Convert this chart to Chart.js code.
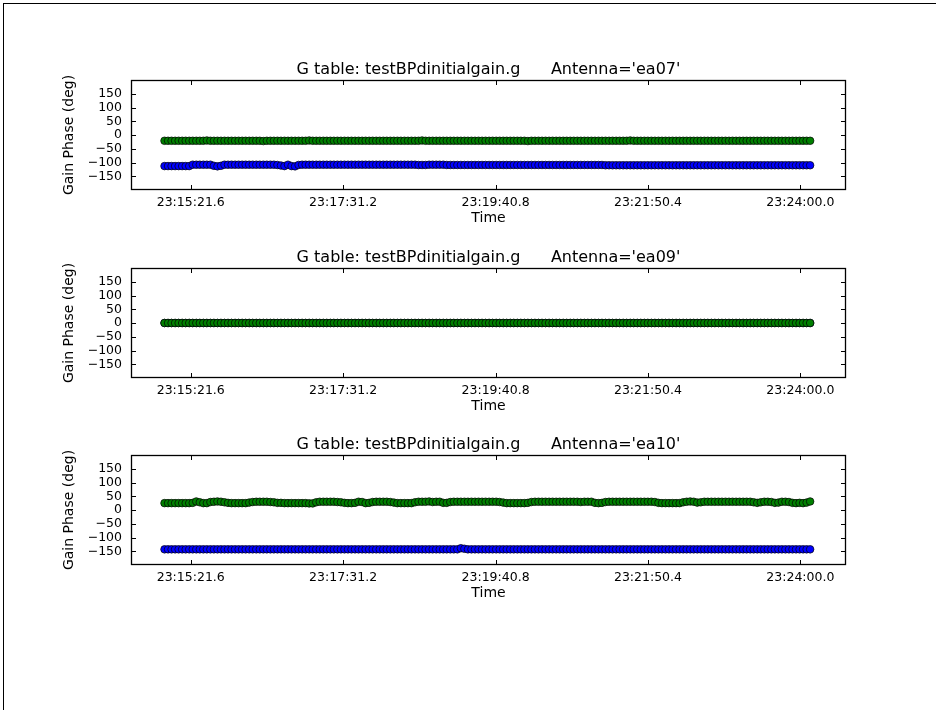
<!DOCTYPE html>
<html>
<head>
<meta charset="utf-8">
<script src="https://cdn.jsdelivr.net/npm/chart.js@4"></script>
<style>
  html, body { margin: 0; padding: 0; background: #fff; }
  body { width: 936px; height: 710px; position: relative; overflow: hidden; }
  #page-frame { position: absolute; left: 3px; top: 3px; width: 1000px; height: 800px;
                border-left: 1px solid #000; border-top: 1px solid #000; }
  .panel { position: absolute; left: 0; width: 936px; height: 190px; }
</style>
</head>
<body>
<div id="page-frame"></div>
<div class="panel" style="top:50px"><canvas id="c1" width="936" height="190"></canvas></div>
<div class="panel" style="top:238px"><canvas id="c2" width="936" height="190"></canvas></div>
<div class="panel" style="top:425px"><canvas id="c3" width="936" height="190"></canvas></div>
<script>
// Calibration table and antennas
const tableName = "testBPdinitialgain.g";
const antennas = ["ea07", "ea09", "ea10"];

// Solution times: seconds after midnight (first solution, solution interval, count)
const firstSolution = 83699.3;
const solutionInterval = 3.0;
const solutionCount = 184;

// Time axis ticks (seconds after midnight) and their labels
const timeTicks = [83721.6, 83851.2, 83980.8, 84110.4, 84240.0];
const timeTickLabels = ["23:15:21.6", "23:17:31.2", "23:19:40.8", "23:21:50.4", "23:24:00.0"];
const timeMin = 83670.8;
const timeMax = 84278.8;

// Phase axis
const phaseTicks = [-150, -100, -50, 0, 50, 100, 150];
const phaseMin = -200;
const phaseMax = 200;

// Gain phase (deg), polarization 1 (green) and polarization 2 (blue)
const ea07Green = [
  -21,-21,-21,-21,-21,-21,-21,-21,-21,-21,-21,-21,-20,-21,-21,-21,-21,-21,-21,-21,-21,-21,-21,
  -21,-21,-21,-21,-21,-22,-21,-21,-21,-21,-21,-21,-21,-21,-21,-21,-21,-21,-20,-21,-21,-21,-21,
  -21,-21,-21,-21,-21,-21,-21,-21,-21,-21,-21,-21,-21,-21,-21,-21,-21,-21,-21,-21,-21,-21,-21,
  -21,-21,-21,-21,-20,-21,-21,-21,-21,-21,-21,-21,-21,-21,-21,-21,-21,-21,-21,-21,-21,-21,-21,
  -21,-21,-21,-21,-21,-21,-21,-21,-21,-21,-21,-22,-21,-21,-21,-21,-21,-21,-21,-21,-21,-21,-21,
  -21,-21,-21,-21,-21,-21,-21,-21,-21,-21,-21,-21,-21,-21,-21,-21,-21,-20,-21,-21,-21,-21,-21,
  -21,-21,-21,-21,-21,-21,-21,-21,-21,-21,-21,-21,-21,-21,-21,-21,-21,-21,-21,-21,-21,-21,-21,
  -21,-21,-21,-21,-21,-21,-21,-21,-21,-21,-21,-21,-21,-21,-21,-21,-21,-21,-21,-21,-21,-21,-21
];
const ea07Blue = [
  -113,-113,-113,-113,-113,-113,-113,-113,-108,-108,-108,-108,-108,-108,-112,-114,-112,-108,-108,-108,-108,-108,-108,
  -108,-108,-108,-108,-108,-108,-108,-108,-108,-109,-111,-113,-108,-113,-114,-109,-108,-108,-108,-108,-108,-108,-108,
  -108,-108,-108,-108,-108,-108,-108,-108,-108,-108,-108,-108,-108,-108,-108,-108,-108,-108,-108,-108,-108,-108,-108,
  -108,-108,-108,-109,-109,-109,-108,-108,-108,-108,-108,-109,-109,-109,-109,-109,-109,-109,-109,-109,-109,-109,-109,
  -109,-109,-109,-109,-109,-109,-109,-109,-109,-109,-109,-109,-109,-109,-109,-109,-109,-109,-109,-109,-109,-109,-109,
  -109,-109,-109,-109,-109,-109,-109,-109,-109,-109,-110,-110,-110,-110,-110,-110,-110,-110,-110,-110,-110,-110,-110,
  -110,-110,-110,-110,-110,-110,-110,-110,-110,-110,-110,-110,-110,-110,-110,-110,-110,-110,-110,-110,-110,-110,-110,
  -110,-110,-110,-110,-110,-110,-110,-110,-110,-110,-110,-110,-110,-110,-110,-110,-110,-110,-110,-110,-110,-110,-110
];
// ea09 is the reference antenna: phases are zero
const ea09Green = [
  0,0,0,0,0,0,0,0,0,0,0,0,0,0,0,0,0,0,0,0,0,0,0,
  0,0,0,0,0,0,0,0,0,0,0,0,0,0,0,0,0,0,0,0,0,0,0,
  0,0,0,0,0,0,0,0,0,0,0,0,0,0,0,0,0,0,0,0,0,0,0,
  0,0,0,0,0,0,0,0,0,0,0,0,0,0,0,0,0,0,0,0,0,0,0,
  0,0,0,0,0,0,0,0,0,0,0,0,0,0,0,0,0,0,0,0,0,0,0,
  0,0,0,0,0,0,0,0,0,0,0,0,0,0,0,0,0,0,0,0,0,0,0,
  0,0,0,0,0,0,0,0,0,0,0,0,0,0,0,0,0,0,0,0,0,0,0,
  0,0,0,0,0,0,0,0,0,0,0,0,0,0,0,0,0,0,0,0,0,0,0
];
const ea09Blue = [
  0,0,0,0,0,0,0,0,0,0,0,0,0,0,0,0,0,0,0,0,0,0,0,
  0,0,0,0,0,0,0,0,0,0,0,0,0,0,0,0,0,0,0,0,0,0,0,
  0,0,0,0,0,0,0,0,0,0,0,0,0,0,0,0,0,0,0,0,0,0,0,
  0,0,0,0,0,0,0,0,0,0,0,0,0,0,0,0,0,0,0,0,0,0,0,
  0,0,0,0,0,0,0,0,0,0,0,0,0,0,0,0,0,0,0,0,0,0,0,
  0,0,0,0,0,0,0,0,0,0,0,0,0,0,0,0,0,0,0,0,0,0,0,
  0,0,0,0,0,0,0,0,0,0,0,0,0,0,0,0,0,0,0,0,0,0,0,
  0,0,0,0,0,0,0,0,0,0,0,0,0,0,0,0,0,0,0,0,0,0,0
];
const ea10Green = [
  25,25,25,25,25,25,25,25,26,31,28,25,25,29,30,31,30,28,26,25,25,25,25,
  25,27,29,30,30,30,30,29,28,26,26,25,25,25,25,25,25,25,24,24,28,30,30,
  30,30,30,29,28,26,25,25,26,30,29,25,26,29,30,30,30,30,29,27,25,25,25,
  25,25,28,30,30,30,31,29,30,30,26,26,29,30,30,30,30,30,30,30,30,30,30,
  30,30,30,29,27,25,25,25,25,25,25,26,29,30,30,30,30,30,30,30,30,30,30,
  30,30,30,29,30,30,30,26,25,26,29,30,30,30,30,30,30,30,30,30,30,30,30,
  30,29,26,25,25,25,25,25,25,28,30,31,30,27,28,30,30,30,30,30,30,30,30,
  30,30,30,30,30,30,28,26,28,30,30,29,26,27,30,30,29,26,25,26,25,27,31
];
const ea10Blue = [
  -143,-143,-143,-143,-143,-143,-143,-143,-143,-143,-143,-143,-143,-143,-143,-143,-143,-143,-143,-143,-143,-143,-143,
  -143,-143,-143,-143,-143,-143,-143,-143,-143,-143,-143,-143,-143,-143,-143,-143,-143,-143,-143,-143,-143,-143,-143,
  -143,-143,-143,-143,-143,-143,-143,-143,-143,-143,-143,-143,-143,-143,-143,-143,-143,-143,-143,-143,-143,-143,-143,
  -143,-143,-143,-143,-143,-143,-143,-143,-143,-143,-143,-143,-143,-143,-143,-139,-141,-143,-143,-143,-143,-143,-143,
  -143,-143,-143,-143,-143,-143,-143,-143,-143,-143,-143,-143,-143,-143,-143,-143,-143,-143,-143,-143,-143,-143,-143,
  -143,-143,-143,-143,-143,-143,-143,-143,-143,-143,-143,-143,-143,-143,-143,-143,-143,-143,-143,-143,-143,-143,-143,
  -143,-143,-143,-143,-143,-143,-143,-143,-143,-143,-143,-143,-143,-143,-143,-143,-143,-143,-143,-143,-143,-143,-143,
  -143,-143,-143,-143,-143,-143,-143,-143,-143,-143,-143,-143,-143,-143,-143,-143,-143,-143,-143,-143,-143,-143,-143
];

const panels = [
  { canvas: "c1", antenna: antennas[0], green: ea07Green, blue: ea07Blue },
  { canvas: "c2", antenna: antennas[1], green: ea09Green, blue: ea09Blue },
  { canvas: "c3", antenna: antennas[2], green: ea10Green, blue: ea10Blue }
];

const FONT = "'DejaVu Sans', 'Bitstream Vera Sans', sans-serif";
const solutionTimes = [];
for (let i = 0; i < solutionCount; i++) solutionTimes.push(firstSolution + i * solutionInterval);

function toPoints(values) {
  return values.map((v, i) => ({ x: solutionTimes[i], y: v }));
}

// Axes box with inward tick marks on all four sides
const axesFrame = {
  id: "axesFrame",
  afterDatasetsDraw(chart) {
    const { ctx, chartArea: a, scales: { x, y } } = chart;
    const L = Math.round(a.left), R = Math.round(a.right);
    const T = Math.round(a.top), B = Math.round(a.bottom);
    const len = 5;
    ctx.save();
    ctx.strokeStyle = "#000";
    ctx.lineWidth = 1;
    ctx.beginPath();
    x.ticks.forEach(t => {
      const px = Math.round(x.getPixelForValue(t.value)) + 0.5;
      ctx.moveTo(px, B); ctx.lineTo(px, B - len);
      ctx.moveTo(px, T); ctx.lineTo(px, T + len);
    });
    y.ticks.forEach(t => {
      const py = Math.round(y.getPixelForValue(t.value)) + 0.5;
      ctx.moveTo(L, py); ctx.lineTo(L + len, py);
      ctx.moveTo(R, py); ctx.lineTo(R - len, py);
    });
    ctx.stroke();
    ctx.lineWidth = 1.3;
    ctx.strokeRect(L + 0.5, T + 0.5, R - L - 1, B - T - 1);
    ctx.restore();
  }
};

panels.forEach(p => {
  new Chart(document.getElementById(p.canvas), {
    type: "scatter",
    data: {
      datasets: [
        { label: "pol 1", data: toPoints(p.green), backgroundColor: "#007f00",
          borderColor: "#000", borderWidth: 0.7, pointRadius: 3.8, showLine: false },
        { label: "pol 2", data: toPoints(p.blue), backgroundColor: "#0000ff",
          borderColor: "#000", borderWidth: 0.7, pointRadius: 3.8, showLine: false }
      ]
    },
    options: {
      responsive: false,
      animation: false,
      events: [],
      layout: { padding: { left: 0, right: 90, top: 0, bottom: 0 } },
      plugins: {
        legend: { display: false },
        tooltip: { enabled: false },
        title: {
          display: true,
          fullSize: false,
          text: "G table: " + tableName + "      Antenna='" + p.antenna + "'",
          color: "#000",
          font: { family: FONT, size: 16, weight: "normal" },
          padding: { top: 10.4, bottom: 0.4 }
        }
      },
      scales: {
        x: {
          type: "linear",
          min: timeMin,
          max: timeMax,
          grid: { display: false, drawTicks: false },
          border: { display: false },
          afterBuildTicks: s => { s.ticks = timeTicks.map(v => ({ value: v })); },
          afterFit: s => { s.height = 50; },
          ticks: {
            autoSkip: false, maxRotation: 0, padding: 5, color: "#000",
            font: { family: FONT, size: 12.5 },
            callback: (v, i) => timeTickLabels[i]
          },
          title: {
            display: true, text: "Time", color: "#000",
            font: { family: FONT, size: 14 },
            padding: { top: 0, bottom: 13.6 }
          }
        },
        y: {
          min: phaseMin,
          max: phaseMax,
          grid: { display: false, drawTicks: false },
          border: { display: false },
          afterBuildTicks: s => { s.ticks = phaseTicks.map(v => ({ value: v })); },
          afterFit: s => { s.width = 131; },
          ticks: {
            padding: 9, color: "#000",
            font: { family: FONT, size: 12.5 },
            callback: v => String(v).replace("-", "\u2212")
          },
          title: {
            display: true, text: "Gain Phase (deg)", color: "#000",
            font: { family: FONT, size: 14 },
            padding: { top: 60.6, bottom: 0 }
          }
        }
      }
    },
    plugins: [axesFrame]
  });
});
</script>
</body>
</html>
